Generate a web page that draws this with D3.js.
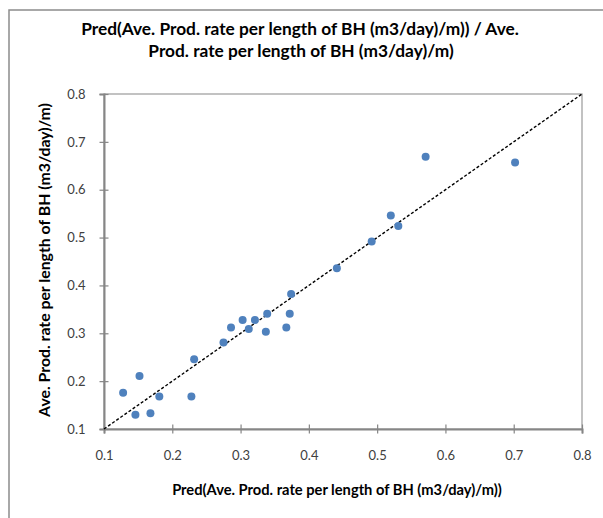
<!DOCTYPE html>
<html>
<head>
<meta charset="utf-8">
<script src="https://cdn.jsdelivr.net/npm/d3@7"></script>
<style>
  body { margin: 0; background: #fff; }
  svg { display: block; font-family: Lato, "Open Sans", sans-serif; }
</style>
</head>
<body>
<div id="chart"></div>
<script>
const predValues = [0.128, 0.152, 0.146, 0.168, 0.181, 0.228, 0.232, 0.275, 0.286, 0.303, 0.312, 0.321,
  0.339, 0.337, 0.367, 0.372, 0.374, 0.441, 0.492, 0.520, 0.531, 0.571, 0.702]
const actualValues = [0.176, 0.211, 0.130, 0.133, 0.168, 0.168, 0.246, 0.281, 0.312, 0.328, 0.309, 0.328,
  0.341, 0.303, 0.312, 0.341, 0.382, 0.436, 0.492, 0.546, 0.524, 0.669, 0.657]
const tickValues = [0.1, 0.2, 0.3, 0.4, 0.5, 0.6, 0.7, 0.8]
const titleLines = ["Pred(Ave. Prod. rate per length of BH (m3/day)/m)) / Ave.", "Prod. rate per length of BH (m3/day)/m)"]
const xTitle = "Pred(Ave. Prod. rate per length of BH (m3/day)/m))"
const yTitle = "Ave. Prod. rate per length of BH (m3/day)/m)"

const width = 603, height = 518
const plot = { left: 104, right: 582, top: 94, bottom: 429 }

const svg = d3.select("#chart").append("svg")
  .attr("width", width)
  .attr("height", height)

// scale a text's font so it spans roughly the given width
function fitText(sel, target) {
  const w = sel.node().getComputedTextLength()
  const fs = parseFloat(sel.style("font-size"))
  sel.style("font-size", (fs * target / w).toFixed(2) + "px")
}

// outer chart frame
svg.append("rect")
  .attr("x", 9).attr("y", 10)
  .attr("width", width).attr("height", height)
  .style("fill", "#fff")
  .style("stroke", "#8c8c8c")
  .style("stroke-width", 1.5)

const x = d3.scaleLinear().domain([0.1, 0.8]).range([plot.left, plot.right])
const y = d3.scaleLinear().domain([0.1, 0.8]).range([plot.bottom, plot.top])

// plot area border
svg.append("rect")
  .attr("x", plot.left).attr("y", plot.top)
  .attr("width", plot.right - plot.left).attr("height", plot.bottom - plot.top)
  .style("fill", "none")
  .style("stroke", "#9a9a9a")
  .style("stroke-width", 1.2)

const fmt = d3.format(".1f")

const xAxis = svg.append("g")
  .attr("transform", "translate(0," + plot.bottom + ")")
  .call(d3.axisBottom(x).tickValues(tickValues).tickFormat(fmt).tickSize(4.5).tickPadding(17))
xAxis.selectAll(".tick line").attr("y1", -4.5)

const yAxis = svg.append("g")
  .attr("transform", "translate(" + plot.left + ",0)")
  .call(d3.axisLeft(y).tickValues(tickValues).tickFormat(fmt).tickSize(4.5).tickPadding(14))
yAxis.selectAll(".tick line").attr("x1", 4.5)

svg.selectAll(".domain").style("stroke", "#868686").style("stroke-width", 2)
svg.selectAll(".tick line").style("stroke", "#868686").style("stroke-width", 1.2)
svg.selectAll(".tick text")
  .style("font-family", "Lato, sans-serif")
  .style("font-size", "13px")
  .style("fill", "#404040")

// 1:1 reference line
svg.append("line")
  .attr("x1", x(0.1)).attr("y1", y(0.1))
  .attr("x2", x(0.8)).attr("y2", y(0.8))
  .style("stroke", "#000")
  .style("stroke-width", 1.4)
  .style("stroke-dasharray", "3,2")

svg.append("g").selectAll("circle")
  .data(predValues.map((p, i) => [p, actualValues[i]]))
  .join("circle")
  .attr("cx", d => x(d[0]))
  .attr("cy", d => y(d[1]))
  .attr("r", 4)
  .style("fill", "#4f81bd")

const titleWidths = [438, 288]
const t1 = svg.append("text")
  .text(titleLines[0])
  .attr("x", 300)
  .attr("y", 35)
  .attr("text-anchor", "middle")
  .style("font-weight", "bold")
  .style("font-size", "15px")
fitText(t1, titleWidths[0])
svg.append("text")
  .text(titleLines[1])
  .attr("x", 301)
  .attr("y", 57)
  .attr("text-anchor", "middle")
  .style("font-weight", "bold")
  .style("font-size", t1.style("font-size"))

const xt = svg.append("text")
  .text(xTitle)
  .attr("x", 337)
  .attr("y", 495)
  .attr("text-anchor", "middle")
  .style("font-weight", "bold")
  .style("font-size", "13px")
fitText(xt, 330)

const yt = svg.append("text")
  .text(yTitle)
  .attr("transform", "translate(50,260) rotate(-90)")
  .attr("text-anchor", "middle")
  .style("font-weight", "bold")
  .style("font-size", "13px")
fitText(yt, 314)
</script>
</body>
</html>
